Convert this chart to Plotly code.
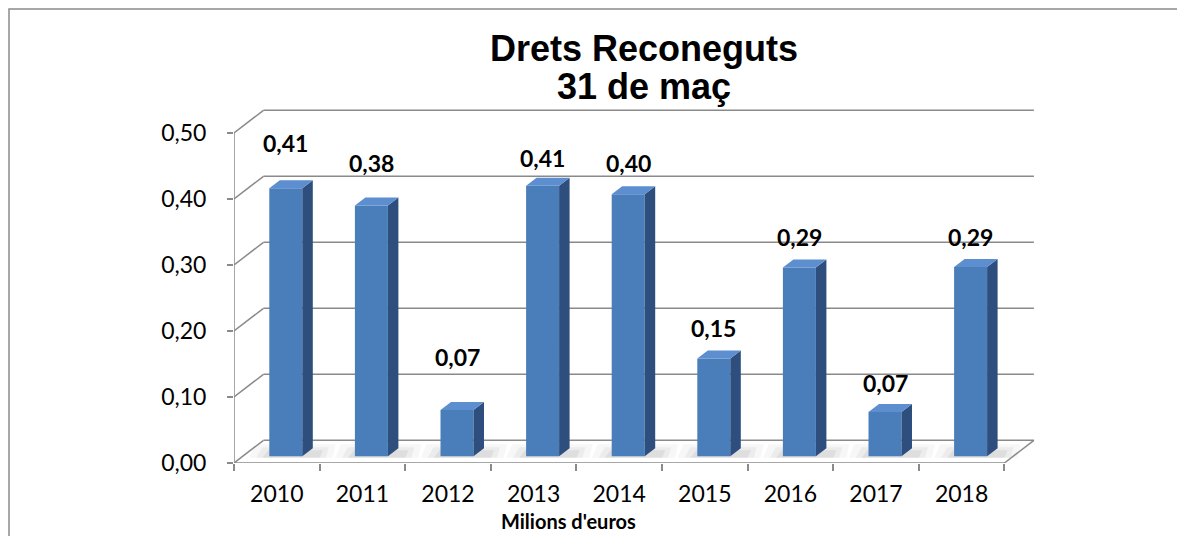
import plotly.graph_objects as go

# ---------------- data ----------------
years = ["2010", "2011", "2012", "2013", "2014", "2015", "2016", "2017", "2018"]
values = [0.406, 0.38, 0.07, 0.41, 0.397, 0.148, 0.286, 0.067, 0.287]
y_ticks = [0.0, 0.1, 0.2, 0.3, 0.4, 0.5]
title_line1 = "Drets Reconeguts"
title_line2 = "31 de maç"
x_title = "Milions d'euros"

# label offsets above bar top (pixels) - placement style
label_offset_px = [45, 43, 53, 28, 31, 31, 31, 29, 30]

# ---------------- geometry (pixels) ----------------
FIG_W, FIG_H = 1177, 536
L, R, T, B = 234, 1040, 100, 463
PX_PER_X = 85.6          # pixels per category
PX_PER_Y = 660.0         # pixels per value unit
x_range = [-0.5, -0.5 + (R - L) / PX_PER_X]
y_range = [0.0, (B - T) / PX_PER_Y]

DEPTH_DX = 29.5 / PX_PER_X     # back wall offset
DEPTH_DY = 22.7 / PX_PER_Y
BAR_OFF = 9.0 / PX_PER_X       # bar shift due to depth position
BAR_BASE = 6.7 / PX_PER_Y
BAR_W = 33.0 / PX_PER_X
SIDE_DX = 10.5 / PX_PER_X
SIDE_DY = 8.0 / PX_PER_Y

GRID = "#8a8a8a"
FRONT = "#4A7EBB"
SIDE = "#2E4F7D"
TOP = "#5C8ED0"


def paper_x(p):
    return (p - L) / (R - L)


def paper_y(p):
    return (B - p) / (B - T)


n = len(years)
fig = go.Figure()

# front faces as bars
fig.add_trace(go.Bar(
    x=[i + BAR_OFF for i in range(n)], y=values, base=BAR_BASE, width=BAR_W,
    marker=dict(color=FRONT, line=dict(width=0)), hoverinfo="skip", showlegend=False,
))

# side and top faces
side_x, side_y, top_x, top_y = [], [], [], []
for i, v in enumerate(values):
    xl = i + BAR_OFF - BAR_W / 2
    xr = i + BAR_OFF + BAR_W / 2
    b = BAR_BASE
    t = BAR_BASE + v
    side_x += [xr, xr + SIDE_DX, xr + SIDE_DX, xr, xr, None]
    side_y += [b, b + SIDE_DY, t + SIDE_DY, t, b, None]
    top_x += [xl, xr, xr + SIDE_DX, xl + SIDE_DX, xl, None]
    top_y += [t, t, t + SIDE_DY, t + SIDE_DY, t, None]

fig.add_trace(go.Scatter(x=side_x, y=side_y, fill="toself", fillcolor=SIDE, mode="lines",
                         line=dict(width=0, color=SIDE), hoverinfo="skip", showlegend=False))
fig.add_trace(go.Scatter(x=top_x, y=top_y, fill="toself", fillcolor=TOP, mode="lines",
                         line=dict(width=0, color=TOP), hoverinfo="skip", showlegend=False))

# invisible trace for the category axis
fig.add_trace(go.Scatter(x=years, y=[0] * n, xaxis="x2", mode="markers",
                         marker=dict(opacity=0), hoverinfo="skip", showlegend=False))

shapes = []
x_left = -0.5
x_right = n - 0.5
# soft shadows on floor (drawn first, under grid lines)
for i, v in enumerate(values):
    xl = i + BAR_OFF - BAR_W / 2
    xr = i + BAR_OFF + BAR_W / 2 + SIDE_DX
    for ex, up, alpha in [(20, 12, 0.03), (13, 9, 0.045), (7, 6, 0.06)]:
        y0 = BAR_BASE - 1.5 / PX_PER_Y
        y1 = BAR_BASE + up / PX_PER_Y
        path = (f"M {xl - ex / PX_PER_X},{y0} L {xr + ex / PX_PER_X},{y0} "
                f"L {xr + (ex + 3) / PX_PER_X},{y1} L {xl - ex / PX_PER_X + 6 / PX_PER_X},{y1} Z")
        shapes.append(dict(type="path", xref="x", yref="y", path=path,
                           fillcolor=f"rgba(0,0,0,{alpha})", line=dict(width=0), layer="below"))

# left wall: front vertical axis line
shapes.append(dict(type="line", xref="x", yref="y", x0=x_left, x1=x_left, y0=0, y1=y_ticks[-1],
                   line=dict(color=GRID, width=1.5), layer="below"))
for v in y_ticks:
    shapes.append(dict(type="line", xref="x", yref="y", x0=x_left, x1=x_left + DEPTH_DX,
                       y0=v, y1=v + DEPTH_DY, line=dict(color=GRID, width=1.5), layer="below"))
    shapes.append(dict(type="line", xref="x", yref="y", x0=x_left + DEPTH_DX, x1=x_right + DEPTH_DX,
                       y0=v + DEPTH_DY, y1=v + DEPTH_DY, line=dict(color=GRID, width=1.5), layer="below"))
# floor front edge and right edge
shapes.append(dict(type="line", xref="x", yref="y", x0=x_left, x1=x_right, y0=0, y1=0,
                   line=dict(color=GRID, width=1.5), layer="below"))
shapes.append(dict(type="line", xref="x", yref="y", x0=x_right, x1=x_right + DEPTH_DX, y0=0, y1=DEPTH_DY,
                   line=dict(color=GRID, width=1.5), layer="below"))

# outer chart border
shapes.append(dict(type="rect", xref="paper", yref="paper",
                   x0=paper_x(9), x1=paper_x(1200), y0=paper_y(560), y1=paper_y(9),
                   line=dict(color=GRID, width=1.5), fillcolor="rgba(0,0,0,0)", layer="below"))

annotations = []
for i, v in enumerate(values):
    txt = f"{v:.2f}".replace(".", ",")
    annotations.append(dict(x=i + BAR_OFF, y=BAR_BASE + v + label_offset_px[i] / PX_PER_Y,
                            xref="x", yref="y", text=txt, showarrow=False, yanchor="middle",
                            font=dict(family="Lato, Arial", size=23, color="black", weight="bold")))
annotations.append(dict(x=paper_x(568), y=paper_y(521), xref="paper", yref="paper", text=x_title,
                        showarrow=False, yanchor="middle",
                        font=dict(family="Lato, Arial", size=20, color="black", weight="bold")))
annotations.append(dict(x=paper_x(644), y=paper_y(48), xref="paper", yref="paper", text=title_line1,
                        showarrow=False, yanchor="middle",
                        font=dict(family="Liberation Sans, Arial", size=36, color="black", weight="bold")))
annotations.append(dict(x=paper_x(644), y=paper_y(86), xref="paper", yref="paper", text=title_line2,
                        showarrow=False, yanchor="middle",
                        font=dict(family="Liberation Sans, Arial", size=36, color="black", weight="bold")))

fig.update_layout(
    width=FIG_W, height=FIG_H,
    margin=dict(l=L, r=FIG_W - R, t=T, b=FIG_H - B, pad=0, autoexpand=False),
    paper_bgcolor="white", plot_bgcolor="rgba(0,0,0,0)",
    separators=",.",
    showlegend=False,
    xaxis=dict(range=x_range, showticklabels=False, ticks="", showgrid=False, zeroline=False,
               showline=False, fixedrange=True),
    xaxis2=dict(type="category", overlaying="x", anchor="y", side="bottom", range=x_range,
                categoryorder="array", categoryarray=years, tickson="boundaries",
                ticks="outside", ticklen=7, tickwidth=1.5, tickcolor=GRID, ticklabelstandoff=15,
                showgrid=False, zeroline=False, showline=False,
                tickfont=dict(family="Lato, Arial", size=23, color="black")),
    yaxis=dict(range=y_range, tickvals=y_ticks, tickformat=".2f", ticks="outside", ticklen=6,
               tickwidth=1.5, tickcolor=GRID, ticklabelstandoff=16, showgrid=False, zeroline=False,
               showline=False, tickfont=dict(family="Lato, Arial", size=23, color="black")),
    shapes=shapes, annotations=annotations,
)

fig.write_html("out.html", config={"displayModeBar": False},
               post_script="document.body.style.margin='0';document.body.style.overflow='hidden';")
